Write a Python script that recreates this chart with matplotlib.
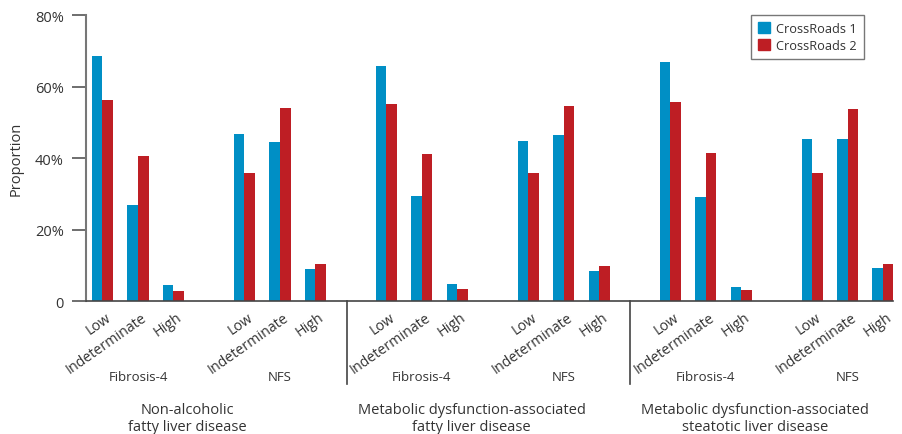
import matplotlib
matplotlib.use("Agg")
import matplotlib.pyplot as plt
from matplotlib.patches import Patch
from matplotlib.transforms import ScaledTranslation

plt.rcParams['font.family'] = ['Open Sans', 'DejaVu Sans']

diseases = ["Non-alcoholic\nfatty liver disease",
            "Metabolic dysfunction-associated\nfatty liver disease",
            "Metabolic dysfunction-associated\nsteatotic liver disease"]
scores = ["Fibrosis-4", "NFS"]
risk = ["Low", "Indeterminate", "High"]

crossroads1 = [68.6, 26.9, 4.6, 46.8, 44.6, 9.0,
               65.8, 29.5, 4.8, 44.8, 46.5, 8.5,
               66.9, 29.2, 4.0, 45.4, 45.4, 9.3]
crossroads2 = [56.3, 40.6, 2.9, 35.9, 54.1, 10.4,
               55.2, 41.2, 3.4, 35.9, 54.6, 9.9,
               55.8, 41.5, 3.2, 35.9, 53.8, 10.4]

blue = "#008FC5"
red = "#BE1E24"
txt = "#333333"

# positions: 3 bars per score, gap of one slot between scores
pos = []
for d in range(len(diseases)):
    for s in range(len(scores)):
        for r in range(len(risk)):
            pos.append(d * 8 + s * 4 + r)

fig = plt.figure(figsize=(9.03, 4.35), dpi=100)
ax = fig.add_axes([0.0952, 0.3057, 0.8938, 0.6573])

w = 0.3
ax.bar([p - w / 2 for p in pos], crossroads1, width=w, color=blue, label="CrossRoads 1")
ax.bar([p + w / 2 for p in pos], crossroads2, width=w, color=red, label="CrossRoads 2")

ax.set_xlim(-0.465, 22.28)
ax.set_ylim(0, 80)
ax.set_yticks([0, 20, 40, 60, 80])
ax.set_yticklabels(["0", "20%", "40%", "60%", "80%"], fontsize=10.5, color=txt)
ax.tick_params(axis='y', length=10, width=1.2, color="#555555", pad=6)
ax.set_xticks(pos)
ax.set_xticklabels(risk * 6, rotation=35, ha='right', va='top',
                   rotation_mode='anchor', fontsize=10.3, color=txt)
ax.tick_params(axis='x', length=0, pad=6)
shift = ScaledTranslation(3 / 100, 0, fig.dpi_scale_trans)
for lab in ax.get_xticklabels():
    lab.set_transform(lab.get_transform() + shift)
for sp in ["top", "right"]:
    ax.spines[sp].set_visible(False)
ax.spines["left"].set_color("#777777")
ax.spines["left"].set_linewidth(1.5)
ax.spines["bottom"].set_color("#444444")
ax.spines["bottom"].set_linewidth(1.2)

ax.set_ylabel("Proportion", fontsize=10.5, color=txt, labelpad=8)

# score labels and disease labels
trans = ax.get_xaxis_transform()
for d in range(len(diseases)):
    for s in range(len(scores)):
        c = d * 8 + s * 4 + 1
        ax.annotate(scores[s], xy=(c, 0), xycoords=trans,
                    xytext=(0, -(377 - 302)), textcoords='offset pixels',
                    ha='center', va='center', fontsize=9.5, color=txt,
                    annotation_clip=False)
    dc = d * 8 + 2.4
    ax.annotate(diseases[d], xy=(dc, 0), xycoords=trans,
                xytext=(0, -(419 - 302)), textcoords='offset pixels',
                ha='center', va='center', fontsize=10.5, color=txt,
                linespacing=1.15, annotation_clip=False)
    if d > 0:
        xd = d * 8 - 1.12
        ax.plot([xd, xd], [0, -0.29], transform=trans, color="#444444",
                lw=1.2, clip_on=False)

leg = ax.legend(handles=[Patch(color=blue, label="CrossRoads 1"),
                         Patch(color=red, label="CrossRoads 2")],
                loc='upper left', bbox_to_anchor=(0.824, 1.0),
                fontsize=9.2, frameon=True, fancybox=False,
                handlelength=0.9, handleheight=0.9, handletextpad=0.5,
                borderpad=0.55, labelspacing=0.3, borderaxespad=0)
leg.get_frame().set_edgecolor("#555555")
leg.get_frame().set_linewidth(1.0)
for t in leg.get_texts():
    t.set_color(txt)

fig.savefig("out.png", dpi=100)
